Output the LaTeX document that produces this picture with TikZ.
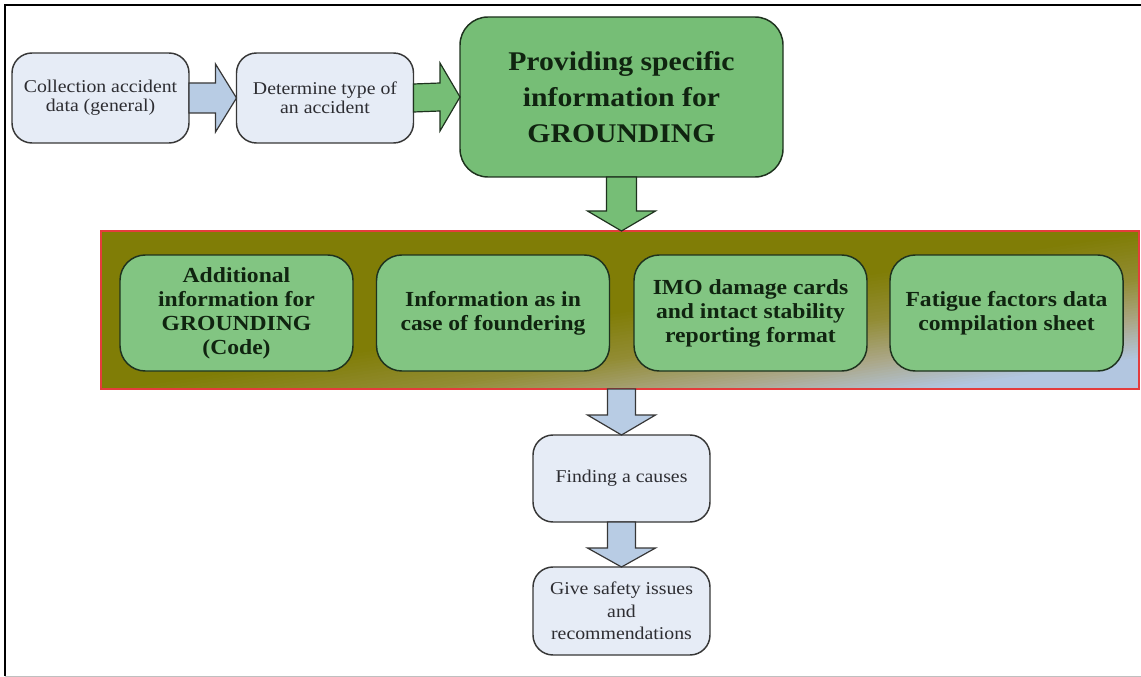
\documentclass[tikz,border=0pt]{standalone}
\usepackage{fontspec}
\setmainfont{Liberation Serif}[FakeStretch=1.1]
\usetikzlibrary{calc}
\newdimen\pxu \pxu=0.75pt
\definecolor{olv}{RGB}{128,125,6}
\definecolor{olvlt}{RGB}{146,140,52}
\definecolor{tanc}{RGB}{170,166,132}
\definecolor{lbc}{RGB}{178,198,224}
\definecolor{bluefill}{RGB}{230,236,246}
\definecolor{barrow}{RGB}{184,204,228}
\definecolor{boxline}{RGB}{55,55,55}
\definecolor{gfill}{RGB}{118,190,118}
\definecolor{gfilllt}{RGB}{130,197,130}
\definecolor{gline}{RGB}{30,50,30}
\definecolor{gtxt}{RGB}{16,36,16}
\definecolor{txtgray}{RGB}{45,45,50}
\definecolor{bandred}{RGB}{228,60,60}
\begin{document}
\begin{tikzpicture}[x=0.75pt,y=-0.75pt,
  bluebox/.style={draw=boxline, line width=1.1pt, fill=bluefill, rounded corners=15pt,
    inner sep=0pt, outer sep=0pt, minimum width=177\pxu, minimum height=90\pxu,
    align=center, text=txtgray, font=\fontsize{13.5}{14.5}\selectfont},
  greenbox/.style={draw=gline, line width=1.1pt, fill=gfill, inner sep=0pt, outer sep=0pt,
    align=center, text=gtxt},
  innerbox/.style={greenbox, fill=gfilllt, rounded corners=19pt, minimum width=233\pxu,
    minimum height=116\pxu, font=\bfseries\fontsize{16.1}{18}\selectfont},
  bluearrow/.style={draw=boxline, line width=0.9pt, fill=barrow, line join=miter},
  greenarrow/.style={draw=gline, line width=0.9pt, fill=gfill, line join=miter},
  bandbox/.style={draw=bandred, line width=1pt, inner sep=0pt, outer sep=0pt,
    minimum width=1038\pxu, minimum height=158\pxu}
]
\useasboundingbox (0,0) rectangle (1141,677);
% frame
\draw[line width=1.9pt, black] (5,676) -- (5,5) -- (1141,5);
\draw[line width=0.75pt, black!25] (5,676) -- (1141,676);

% band background: gradient with isolines parallel to the anti-diagonal
\begin{scope}
  \clip (101,231) rectangle (1139,389);
  \fill[olv] (101,231) rectangle (1139,389);
  \foreach \i in {0,...,15} {
    \pgfmathsetmacro\c{1.0+0.30*\i/15}
    \pgfmathsetmacro\p{100*\i/15}
    \fill[olvlt!\p!olv] ({101+1038*\c},231) -- (1200,231) -- (1200,389) -- ({101+1038*(\c-1)},389) -- cycle;
  }
  \foreach \i in {1,...,15} {
    \pgfmathsetmacro\c{1.30+0.25*\i/15}
    \pgfmathsetmacro\p{100*\i/15}
    \fill[tanc!\p!olvlt] ({101+1038*\c},231) -- (1200,231) -- (1200,389) -- ({101+1038*(\c-1)},389) -- cycle;
  }
  \foreach \i in {1,...,15} {
    \pgfmathsetmacro\c{1.55+0.25*\i/15}
    \pgfmathsetmacro\p{100*\i/15}
    \fill[lbc!\p!tanc] ({101+1038*\c},231) -- (1200,231) -- (1200,389) -- ({101+1038*(\c-1)},389) -- cycle;
  }
\end{scope}

% top row
\node[bluebox] (b1) at (100.5,98) {Collection accident\\data (general)};
\node[bluebox] (b2) at (325,98) {Determine type of\\an accident};
\node[greenbox, rounded corners=21pt, minimum width=323\pxu, minimum height=160\pxu,
  font=\bfseries\fontsize{20.25}{27}\selectfont] (b3) at (621.5,97)
  {Providing specific\\information for\\GROUNDING};

% band
\node[bandbox] (band) at (620,310) {};
\node[innerbox] (i1) at (236.5,313) {Additional\\information for\\GROUNDING\\(Code)};
\node[innerbox] (i2) at (493,313) {Information as in\\case of foundering};
\node[innerbox] (i3) at (750.5,313) {IMO damage cards\\and intact stability\\reporting format};
\node[innerbox] (i4) at (1006.5,313) {Fatigue factors data\\compilation sheet};

% bottom
\node[bluebox, minimum height=87\pxu] (b4) at (621.5,478.5) {Finding a causes};
\node[bluebox, minimum height=88\pxu, font=\fontsize{13.5}{17}\selectfont] (b5) at (621.5,611)
  {Give safety issues\\and\\recommendations};

% arrows
\draw[bluearrow] ($(b1.east)+(0,-15)$) -- ($(b2.west)+(-21,-15)$) -- ($(b2.west)+(-21,-34)$)
  -- (b2.west) -- ($(b2.west)+(-21,34)$) -- ($(b2.west)+(-21,15)$) -- ($(b1.east)+(0,15)$) -- cycle;
\draw[greenarrow] ($(b2.east)+(0,-14)$) -- ($(b3.west)+(-20,-14)$) -- ($(b3.west)+(-20,-34)$)
  -- (b3.west) -- ($(b3.west)+(-20,34)$) -- ($(b3.west)+(-20,14)$) -- ($(b2.east)+(0,14)$) -- cycle;
\draw[greenarrow] ($(b3.south)+(-15,0)$) -- ($(b3.south |- band.north)+(-15,-20)$)
  -- ($(b3.south |- band.north)+(-34,-20)$) -- (b3.south |- band.north)
  -- ($(b3.south |- band.north)+(34,-20)$) -- ($(b3.south |- band.north)+(15,-20)$)
  -- ($(b3.south)+(15,0)$) -- cycle;
\draw[bluearrow] ($(b4.north |- band.south)+(-14,0)$) -- ($(b4.north)+(-14,-20)$)
  -- ($(b4.north)+(-34,-20)$) -- (b4.north) -- ($(b4.north)+(34,-20)$)
  -- ($(b4.north)+(14,-20)$) -- ($(b4.north |- band.south)+(14,0)$) -- cycle;
\draw[bluearrow] ($(b4.south)+(-14,0)$) -- ($(b5.north)+(-14,-19)$)
  -- ($(b5.north)+(-34,-19)$) -- (b5.north) -- ($(b5.north)+(34,-19)$)
  -- ($(b5.north)+(14,-19)$) -- ($(b4.south)+(14,0)$) -- cycle;
\end{tikzpicture}
\end{document}
